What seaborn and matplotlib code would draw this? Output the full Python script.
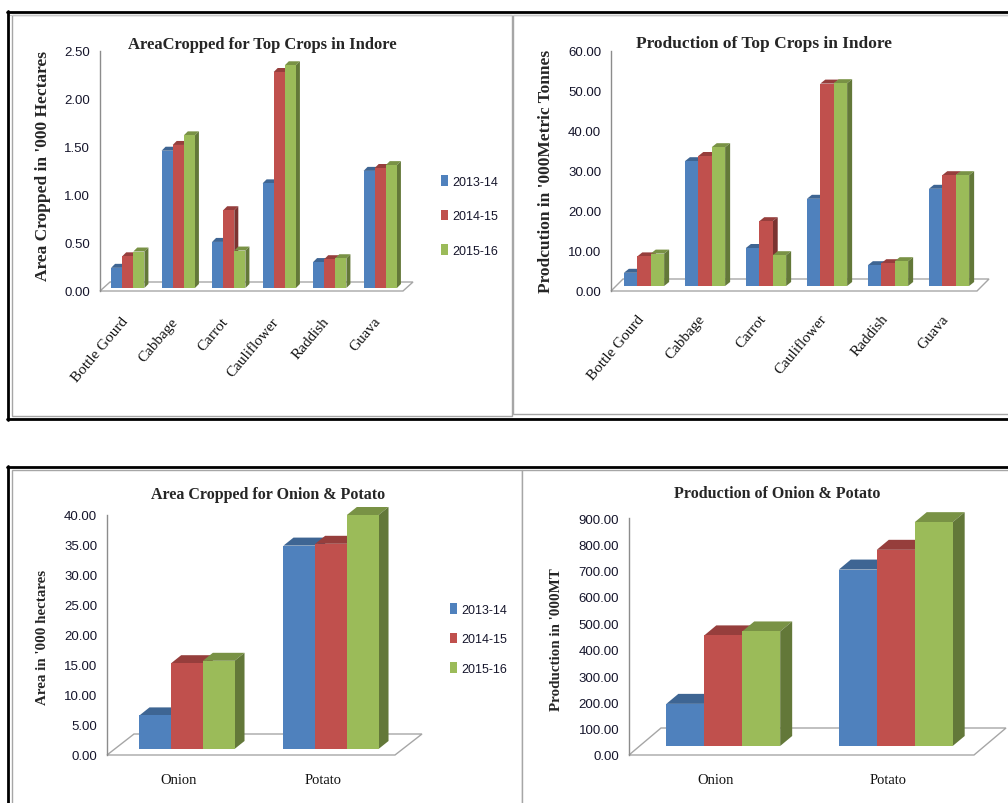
import matplotlib
matplotlib.use("Agg")
import matplotlib.pyplot as plt
import matplotlib.transforms as mtransforms
from matplotlib.patches import Polygon, Rectangle
from matplotlib.lines import Line2D
from matplotlib.colors import to_rgb
import seaborn as sns
import pandas as pd

# ---- data -------------------------------------------------------------
seasons = ["2013-14", "2014-15", "2015-16"]
season_colors = ["#4F81BD", "#C0504D", "#9BBB59"]

crops = ["Bottle Gourd", "Cabbage", "Carrot", "Cauliflower", "Raddish", "Guava"]
crop_area_1314 = [0.21, 1.43, 0.48, 1.09, 0.27, 1.22]
crop_area_1415 = [0.33, 1.49, 0.81, 2.25, 0.30, 1.25]
crop_area_1516 = [0.38, 1.59, 0.39, 2.32, 0.31, 1.28]

crop_prod_1314 = [3.3, 31.2, 9.5, 21.8, 5.2, 24.3]
crop_prod_1415 = [7.4, 32.5, 16.2, 50.6, 5.7, 27.7]
crop_prod_1516 = [8.1, 34.7, 7.7, 50.7, 6.2, 27.7]

bulbs = ["Onion", "Potato"]
bulb_area_1314 = [5.6, 33.9]
bulb_area_1415 = [14.3, 34.2]
bulb_area_1516 = [14.7, 39.0]

bulb_prod_1314 = [160, 670]
bulb_prod_1415 = [420, 745]
bulb_prod_1516 = [435, 850]

area_ticks = [0, 0.5, 1.0, 1.5, 2.0, 2.5]
prod_ticks = [0, 10, 20, 30, 40, 50, 60]
bulb_area_ticks = [0, 5, 10, 15, 20, 25, 30, 35, 40]
bulb_prod_ticks = [0, 100, 200, 300, 400, 500, 600, 700, 800, 900]

# ---- styling ----------------------------------------------------------
sns.set_theme(style="white")
SERIF = ["Liberation Serif", "DejaVu Serif"]
SANS = ["Liberation Sans Narrow", "Liberation Sans", "DejaVu Sans"]
plt.rcParams["font.family"] = SANS
AXIS_GREY = "#8C8C8C"
TICK_TXT = "#15152B"

W, H = 1008, 804
fig = plt.figure(figsize=(W / 100, H / 100), dpi=100)
fig.patch.set_facecolor("white")


def fx(x):
    return x / W


def fy(y):
    return 1 - y / H


def shade(color, k):
    r, g, b = to_rgb(color)
    return (r * k, g * k, b * k)


def long_table(categories, series):
    rows = []
    for season, values in zip(seasons, series):
        for cat, v in zip(categories, values):
            rows.append({"category": cat, "season": season, "value": v})
    return pd.DataFrame(rows)


def chart(box, categories, series, ticks, fmt, bar_shift, bar_depth, floor_depth,
          rot, label_pad, cat_size):
    x0, y0, x1, y1 = box
    ax = fig.add_axes([fx(x0), fy(y1), (x1 - x0) / W, (y1 - y0) / H])
    df = long_table(categories, series)
    sns.barplot(data=df, x="category", y="value", hue="season",
                hue_order=seasons, palette=season_colors, width=0.66,
                saturation=1, errorbar=None, legend=False, ax=ax,
                linewidth=0, edgecolor="none")
    n = len(categories)
    ax.set_xlim(-0.5, n - 0.5)
    ax.set_ylim(ticks[0], ticks[-1])
    ax.set_facecolor("none")

    # data units per pixel
    xpp = n / (x1 - x0)
    ypp = (ticks[-1] - ticks[0]) / (y1 - y0)

    # bars sit in the middle of the floor: small projection offset in pixels
    shift = ax.transData + mtransforms.ScaledTranslation(
        bar_shift[0] / 100, bar_shift[1] / 100, fig.dpi_scale_trans)

    bars = sorted(ax.patches, key=lambda p: p.get_x())
    bdx, bdy = bar_depth[0] * xpp, bar_depth[1] * ypp
    for i, p in enumerate(bars):
        base = 3 + i * 0.1
        col = p.get_facecolor()[:3]
        bx, bw, bh = p.get_x(), p.get_width(), p.get_height()
        p.set_transform(shift)
        p.set_zorder(base + 0.05)
        top = Polygon([(bx, bh), (bx + bw, bh), (bx + bw + bdx, bh + bdy),
                       (bx + bdx, bh + bdy)], closed=True,
                      facecolor=shade(col, 0.78), edgecolor="none",
                      transform=shift, zorder=base, clip_on=False)
        side = Polygon([(bx + bw, 0), (bx + bw + bdx, bdy),
                        (bx + bw + bdx, bh + bdy), (bx + bw, bh)], closed=True,
                       facecolor=shade(col, 0.64), edgecolor="none",
                       transform=shift, zorder=base, clip_on=False)
        ax.add_patch(top)
        ax.add_patch(side)

    # floor of the 3-D plot area
    fdx, fdy = floor_depth[0] * xpp, floor_depth[1] * ypp
    lo, hi = -0.5, n - 0.5
    floor = Polygon([(lo, 0), (hi, 0), (hi + fdx, fdy), (lo + fdx, fdy)],
                    closed=True, facecolor="white", edgecolor="#A6A6A6",
                    linewidth=1.0, zorder=1, clip_on=False)
    ax.add_patch(floor)

    for s in ["top", "right", "bottom"]:
        ax.spines[s].set_visible(False)
    ax.spines["left"].set_color(AXIS_GREY)
    ax.spines["left"].set_linewidth(1.0)

    ax.set_yticks(ticks)
    ax.set_yticklabels([fmt.format(t) for t in ticks])
    ax.tick_params(axis="y", direction="out", length=4, width=1,
                   color=AXIS_GREY, labelcolor=TICK_TXT, labelsize=9.5, pad=3)

    ax.set_xticks(range(n))
    ax.set_xticks([k - 0.5 for k in range(n + 1)], minor=True)
    ax.tick_params(axis="x", which="minor", direction="out", length=7,
                   width=1, color=AXIS_GREY)
    ax.tick_params(axis="x", which="major", length=0, pad=label_pad)
    if rot:
        ax.set_xticklabels(categories, rotation=rot, ha="right", va="center",
                           rotation_mode="anchor", family=SERIF,
                           fontsize=cat_size, color="#111111")
    else:
        ax.set_xticklabels(categories, family=SERIF, fontsize=cat_size,
                           color="#111111")
    ax.set_xlabel("")
    ax.set_ylabel("")
    return ax


def frame(x0, y0, x1, y1, color="#A6A6A6", lw=1.0):
    fig.add_artist(Rectangle((fx(x0), fy(y1)), (x1 - x0) / W, (y1 - y0) / H,
                             transform=fig.transFigure, facecolor="white",
                             edgecolor=color, linewidth=lw, zorder=0))


def hline(y, x0, x1, color="black", lw=2.0):
    fig.add_artist(Line2D([fx(x0), fx(x1)], [fy(y), fy(y)],
                          transform=fig.transFigure, color=color, linewidth=lw))


def vline(x, y0, y1, color="black", lw=2.0):
    fig.add_artist(Line2D([fx(x), fx(x)], [fy(y0), fy(y1)],
                          transform=fig.transFigure, color=color, linewidth=lw))


def legend_at(x, y, spacing):
    handles = [Rectangle((0, 0), 1, 1, facecolor=c, edgecolor="none")
               for c in season_colors]
    fig.legend(handles, seasons, loc="center left",
               bbox_to_anchor=(fx(x), fy(y)), frameon=False, fontsize=9,
               handlelength=0.55, handleheight=0.95, handletextpad=0.35,
               labelspacing=spacing, borderpad=0, borderaxespad=0,
               labelcolor=TICK_TXT)


# ---- sheet background: chart panels and thick borders ------------------
frame(12, 16, 512, 417)
frame(513, 16, 1012, 415)
frame(12, 471, 522, 810)
frame(522, 471, 1012, 810)
hline(16, 8, 1008, color="#C8C8C8", lw=0.8)
hline(12.5, 7, 1008)
vline(8, 12, 421)
hline(420, 7, 1008)
hline(468, 7, 1008)
vline(8, 467, 804)

# ---- top left: area of top crops ---------------------------------------
chart((100, 52, 403, 292), crops,
      [crop_area_1314, crop_area_1415, crop_area_1516], area_ticks, "{:.2f}",
      bar_shift=(2.5, 3), bar_depth=(4, 4), floor_depth=(10, 9),
      rot=50, label_pad=20, cat_size=11)
fig.text(fx(262), fy(45), "AreaCropped for Top Crops in Indore", family=SERIF,
         fontsize=12, fontweight="bold", ha="center", va="center")
fig.text(fx(43), fy(166), "Area Cropped in '000 Hectares", family=SERIF,
         fontsize=12.5, fontweight="bold", rotation=90, ha="center",
         va="center")
legend_at(441, 217, 1.75)

# ---- top right: production of top crops --------------------------------
chart((611, 52, 977, 292), crops,
      [crop_prod_1314, crop_prod_1415, crop_prod_1516], prod_ticks, "{:.2f}",
      bar_shift=(2.5, 5), bar_depth=(5, 4), floor_depth=(12, 12),
      rot=50, label_pad=18, cat_size=11)
fig.text(fx(764), fy(44), "Production of Top Crops in Indore", family=SERIF,
         fontsize=12.5, fontweight="bold", ha="center", va="center")
fig.text(fx(546), fy(171), "Prodcution in '000Metric Tonnes", family=SERIF,
         fontsize=12.5, fontweight="bold", rotation=90, ha="center",
         va="center")

# ---- bottom left: area of onion & potato --------------------------------
chart((107, 516, 395, 756), bulbs,
      [bulb_area_1314, bulb_area_1415, bulb_area_1516], bulb_area_ticks,
      "{:.2f}", bar_shift=(8, 6), bar_depth=(10, 8), floor_depth=(27, 21),
      rot=0, label_pad=13, cat_size=10.5)
fig.text(fx(268), fy(495), "Area Cropped for Onion & Potato", family=SERIF,
         fontsize=11.5, fontweight="bold", ha="center", va="center")
fig.text(fx(43), fy(637), "Area in '000 hectares", family=SERIF,
         fontsize=10.8, fontweight="bold", rotation=90, ha="center",
         va="center")
legend_at(450, 640, 1.35)

# ---- bottom right: production of onion & potato ------------------------
chart((629, 519, 974, 756), bulbs,
      [bulb_prod_1314, bulb_prod_1415, bulb_prod_1516], bulb_prod_ticks,
      "{:.2f}", bar_shift=(8, 9), bar_depth=(12, 10), floor_depth=(32, 27),
      rot=0, label_pad=13, cat_size=10.5)
fig.text(fx(777), fy(494), "Production of Onion & Potato", family=SERIF,
         fontsize=11.5, fontweight="bold", ha="center", va="center")
fig.text(fx(556), fy(640), "Production in '000MT", family=SERIF,
         fontsize=10.8, fontweight="bold", rotation=90, ha="center",
         va="center")

fig.savefig("out.png", dpi=100, facecolor="white")
